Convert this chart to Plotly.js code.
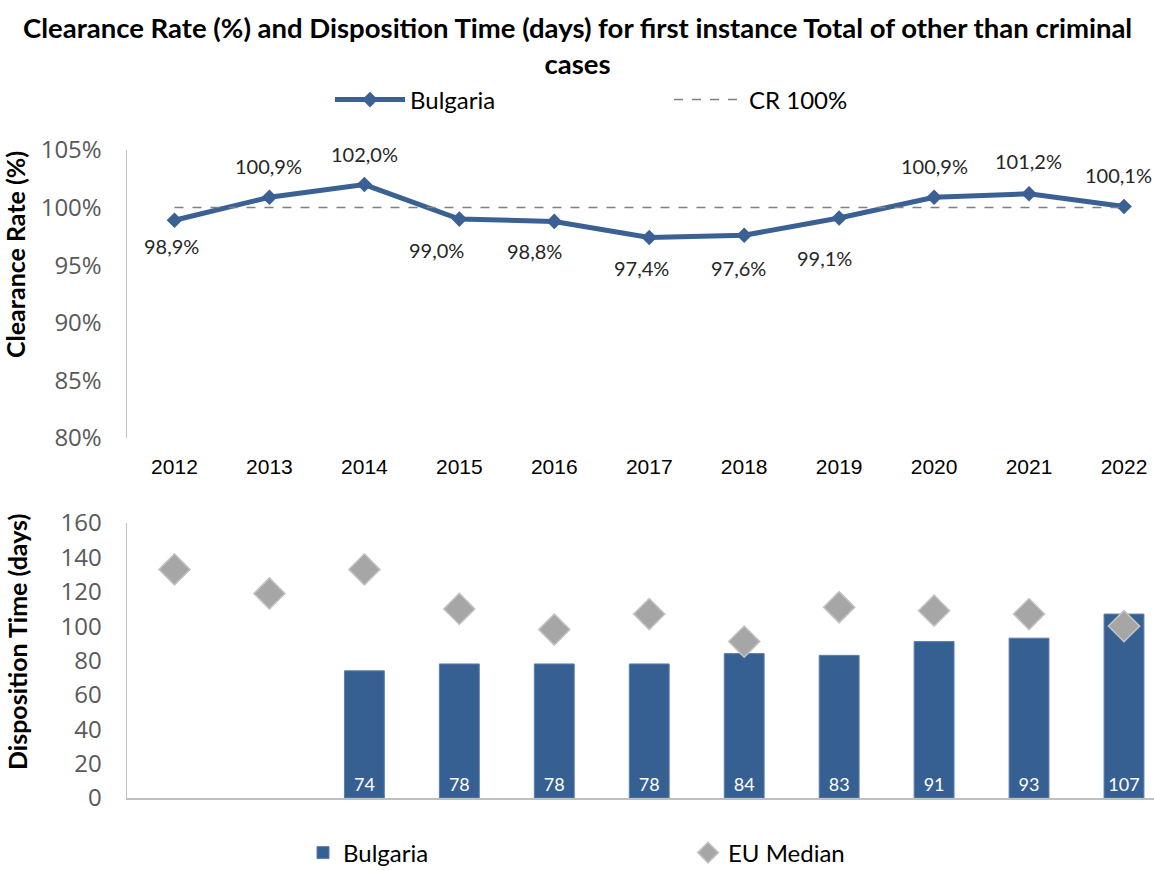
<!DOCTYPE html>
<html>
<head>
<meta charset="utf-8">
<script src="https://cdn.plot.ly/plotly-3.0.1.min.js"></script>
<style>
  html, body { margin: 0; padding: 0; background: #fff; }
  #chart { width: 1154px; height: 870px; }
</style>
</head>
<body>
<div id="chart"></div>
<script>
// ---- Data ----
const years = ['2012', '2013', '2014', '2015', '2016', '2017', '2018', '2019', '2020', '2021', '2022'];
const crBulgaria = [98.9, 100.9, 102.0, 99.0, 98.8, 97.4, 97.6, 99.1, 100.9, 101.2, 100.1];
const crReference = [100, 100, 100, 100, 100, 100, 100, 100, 100, 100, 100];
const dtBulgaria = [null, null, 74, 78, 78, 78, 84, 83, 91, 93, 107];
const dtEUMedian = [133, 119, 133, 110, 98, 107, 91, 111, 109, 107, 100];

// ---- Label placement (styling, px offsets) ----
const labelXShift = [-3, -1, 0, -23, -20, -8, -6, -15, 0, -1, -6];
const labelYShift = [-26, 31, 31, -31, -30, -30, -33, -40, 31, 33, 31];

const FONT = 'Lato, "Open Sans", sans-serif';
const TICKFONT = '"Open Sans", sans-serif';
const YEARFONT = '"Liberation Sans", Arial, sans-serif';
const blue = '#3A6094';
const barBlue = '#376092';
const gray = '#A6A6A6';

const fmt = v => v.toFixed(1).replace('.', ',') + '%';

const W = 1154, H = 870;
const xDom = [127 / W, 1];
const xRange = [-0.5, 10.316];

const traces = [
  {
    x: years, y: crBulgaria, name: 'Bulgaria', type: 'scatter', mode: 'lines+markers',
    xaxis: 'x', yaxis: 'y', legend: 'legend',
    line: { color: blue, width: 5 },
    marker: { symbol: 'diamond', size: 12, color: blue },
    hoverinfo: 'skip'
  },
  {
    x: years, y: crReference, name: 'CR 100%', type: 'scatter', mode: 'lines',
    xaxis: 'x', yaxis: 'y', legend: 'legend',
    line: { color: '#808080', width: 1.5, dash: 'dash' },
    hoverinfo: 'skip'
  },
  {
    x: years, y: dtBulgaria, name: 'Bulgaria', type: 'bar',
    xaxis: 'x2', yaxis: 'y2', legend: 'legend2',
    width: 0.42,
    marker: { color: barBlue, line: { color: '#5B7FB0', width: 1 } },
    text: dtBulgaria.map(v => v == null ? '' : String(v)),
    textposition: 'inside', insidetextanchor: 'start', textangle: 0,
    textfont: { color: '#ffffff', size: 18, family: FONT },
    hoverinfo: 'skip'
  },
  {
    x: years, y: dtEUMedian, name: 'EU Median', type: 'scatter', mode: 'markers',
    xaxis: 'x2', yaxis: 'y2', legend: 'legend2',
    marker: { symbol: 'diamond', size: 24, color: gray, line: { color: '#C4C4C4', width: 1.5 } },
    hoverinfo: 'skip'
  }
];

const annotations = years.map((yr, i) => ({
  x: i, y: crBulgaria[i], xref: 'x', yref: 'y',
  text: fmt(crBulgaria[i]), showarrow: false,
  xshift: labelXShift[i], yshift: labelYShift[i],
  font: { family: FONT, size: 20, color: '#262626' }
}));

annotations.push({
  xref: 'paper', yref: 'paper', x: 0.5, y: 1 - 9 / H,
  xanchor: 'center', yanchor: 'top', showarrow: false,
  text: '<b>Clearance Rate (%) and Disposition Time (days) for first instance Total of other than criminal<br>cases</b>',
  font: { family: FONT, size: 27.5, color: '#000' }
});
annotations.push({
  xref: 'paper', yref: 'paper', x: 15 / W, y: 1 - 255 / H,
  text: '<b>Clearance Rate (%)</b>', textangle: -90, showarrow: false,
  xanchor: 'center', yanchor: 'middle',
  font: { family: FONT, size: 25, color: '#000' }
});
annotations.push({
  xref: 'paper', yref: 'paper', x: 17 / W, y: 1 - 642 / H,
  text: '<b>Disposition Time (days)</b>', textangle: -90, showarrow: false,
  xanchor: 'center', yanchor: 'middle',
  font: { family: FONT, size: 25, color: '#000' }
});

const layout = {
  width: W, height: H,
  margin: { l: 0, r: 0, t: 0, b: 0, autoexpand: false },
  paper_bgcolor: '#fff', plot_bgcolor: '#fff',
  font: { family: FONT },
  showlegend: true,
  legend: {
    orientation: 'h', x: 330 / W, xanchor: 'left', y: 1 - 100 / H, yanchor: 'middle',
    itemwidth: 70, entrywidth: 254, entrywidthmode: 'pixels',
    font: { family: FONT, size: 24, color: '#000' },
    bgcolor: 'rgba(0,0,0,0)', traceorder: 'normal'
  },
  legend2: {
    orientation: 'h', x: 303 / W, xanchor: 'left', y: 1 - 853 / H, yanchor: 'middle',
    itemwidth: 30, entrywidth: 340, entrywidthmode: 'pixels',
    font: { family: FONT, size: 24, color: '#000' },
    bgcolor: 'rgba(0,0,0,0)', traceorder: 'normal'
  },
  xaxis: {
    type: 'category', domain: xDom, range: xRange, anchor: 'y',
    showgrid: false, zeroline: false, showline: false, ticks: '',
    tickfont: { family: YEARFONT, size: 21, color: '#000' },
    ticklabelstandoff: 14, fixedrange: true
  },
  yaxis: {
    domain: [1 - 438 / H, 1 - 150 / H], range: [80, 105], anchor: 'x',
    tickvals: [80, 85, 90, 95, 100, 105], ticktext: ['80%', '85%', '90%', '95%', '100%', '105%'],
    showgrid: false, zeroline: false, showline: true, linecolor: '#BFBFBF', linewidth: 1.5,
    ticks: '', ticklabelstandoff: 19,
    tickfont: { family: TICKFONT, size: 24, color: '#595959' }, fixedrange: true
  },
  xaxis2: {
    type: 'category', domain: xDom, range: xRange, anchor: 'y2',
    showgrid: false, zeroline: false, showline: true, linecolor: '#BFBFBF', linewidth: 2,
    showticklabels: false, ticks: '', fixedrange: true
  },
  yaxis2: {
    domain: [1 - 798 / H, 1 - 523 / H], range: [0, 160], anchor: 'x2',
    tickvals: [0, 20, 40, 60, 80, 100, 120, 140, 160],
    showgrid: false, zeroline: false, showline: true, linecolor: '#BFBFBF', linewidth: 1.5,
    ticks: '', ticklabelstandoff: 19,
    tickfont: { family: TICKFONT, size: 24, color: '#595959' }, fixedrange: true
  },
  annotations: annotations
};

Plotly.newPlot('chart', traces, layout, { displayModeBar: false, staticPlot: true });
</script>
</body>
</html>
